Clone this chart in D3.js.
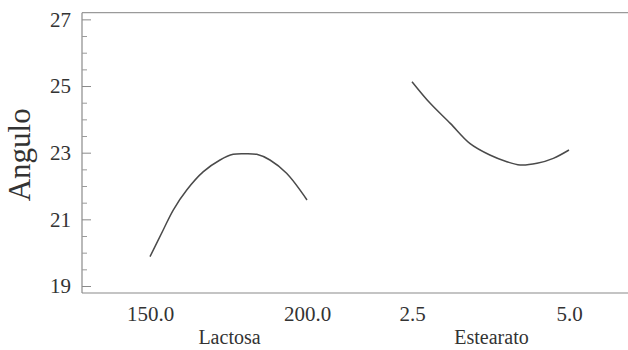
<!DOCTYPE html>
<html>
<head>
<meta charset="utf-8">
<script src="https://cdn.jsdelivr.net/npm/d3@7"></script>
<style>
  html, body { margin: 0; padding: 0; background: #fff; }
  svg { display: block; }
  text { font-family: "Liberation Serif", "DejaVu Serif", serif; fill: #333; }
</style>
</head>
<body>
<svg id="chart" width="628" height="350"></svg>
<script>
// Main effects for Angulo: one curve per factor, low level to high level
const lactosaX   = [150, 154.2, 157.4, 161.7, 167, 172.3, 176.5, 180, 184, 188.2, 193.5, 200];
const lactosaY   = [19.88, 20.68, 21.28, 21.88, 22.43, 22.78, 22.95, 22.97, 22.95, 22.78, 22.38, 21.58];
const estearatoX = [2.5, 2.79, 3.11, 3.42, 3.74, 4.01, 4.22, 4.49, 4.75, 5.0];
const estearatoY = [25.13, 24.48, 23.88, 23.28, 22.93, 22.73, 22.63, 22.68, 22.83, 23.08];

const yMajorTicks = [19, 21, 23, 25, 27];
const yMinorTicks = [19.5, 20, 20.5, 21.5, 22, 22.5, 23.5, 24, 24.5, 25.5, 26, 26.5];
const lactosaTicks = [150, 200];
const estearatoTicks = [2.5, 5.0];
const yTitle = "Angulo";
const lactosaTitle = "Lactosa";
const estearatoTitle = "Estearato";

const svg = d3.select("#chart");
const W = 628;
const plotLeft = 82, plotTop = 12.7, plotBottom = 293;

const y = d3.scaleLinear().domain([18.79, 27.2]).range([plotBottom, plotTop]);
const xL = d3.scaleLinear().domain([150, 200]).range([150, 307]);
const xE = d3.scaleLinear().domain([2.5, 5.0]).range([412, 569]);

// frame: top and bottom rules
svg.append("line")
  .attr("x1", plotLeft).attr("x2", W).attr("y1", plotTop).attr("y2", plotTop)
  .attr("stroke", "#9a9a9a").attr("stroke-width", 1.2);
svg.append("line")
  .attr("x1", plotLeft).attr("x2", W).attr("y1", plotBottom).attr("y2", plotBottom)
  .attr("stroke", "#8a8a8a").attr("stroke-width", 1.2);

// y axis with inward ticks
const yAxis = svg.append("g")
  .attr("transform", `translate(${plotLeft},0)`)
  .call(d3.axisLeft(y).tickValues(yMajorTicks).tickSizeInner(-9).tickSizeOuter(0)
    .tickPadding(11).tickFormat(d3.format("d")));
yAxis.select(".domain").attr("stroke", "#8a8a8a").attr("stroke-width", 1.2)
  .attr("d", `M0,${plotTop}V${plotBottom}`);
yAxis.selectAll(".tick line").attr("stroke", "#8a8a8a");
yAxis.selectAll(".tick text")
  .attr("font-size", 21).attr("dy", "0.33em")
  .style("font-family", "Liberation Serif").attr("fill", "#3a3a3a");

const yMinor = svg.append("g")
  .attr("transform", `translate(${plotLeft},0)`)
  .call(d3.axisLeft(y).tickValues(yMinorTicks).tickSize(-5).tickFormat(""));
yMinor.select(".domain").remove();
yMinor.selectAll(".tick line").attr("stroke", "#9a9a9a");

// x axes: one per factor, labels only
function factorAxis(scale, ticks) {
  const g = svg.append("g")
    .attr("transform", `translate(0,${plotBottom})`)
    .call(d3.axisBottom(scale).tickValues(ticks).tickSize(0).tickPadding(13)
      .tickFormat(d3.format(".1f")));
  g.select(".domain").remove();
  g.selectAll(".tick text")
    .attr("font-size", 21)
    .style("font-family", "Liberation Serif").attr("fill", "#3a3a3a");
  return g;
}
factorAxis(xL, lactosaTicks);
factorAxis(xE, estearatoTicks);

// factor titles
svg.append("text")
  .attr("x", (xL(150) + xL(200)) / 2 + 1).attr("y", 344)
  .attr("text-anchor", "middle").attr("font-size", 20)
  .text(lactosaTitle);
svg.append("text")
  .attr("x", (xE(2.5) + xE(5.0)) / 2 + 1).attr("y", 344)
  .attr("text-anchor", "middle").attr("font-size", 20)
  .text(estearatoTitle);

// y title
svg.append("text")
  .attr("transform", `translate(30,${(plotTop + plotBottom) / 2 + 2}) rotate(-90)`)
  .attr("text-anchor", "middle").attr("font-size", 31)
  .text(yTitle);

// effect curves
const lineL = d3.line().x(d => xL(d[0])).y(d => y(d[1])).curve(d3.curveCatmullRom);
const lineE = d3.line().x(d => xE(d[0])).y(d => y(d[1])).curve(d3.curveCatmullRom);

svg.append("path")
  .datum(d3.zip(lactosaX, lactosaY))
  .attr("d", lineL)
  .attr("fill", "none").attr("stroke", "#4a4a4a").attr("stroke-width", 1.5);
svg.append("path")
  .datum(d3.zip(estearatoX, estearatoY))
  .attr("d", lineE)
  .attr("fill", "none").attr("stroke", "#4a4a4a").attr("stroke-width", 1.5);
</script>
</body>
</html>
